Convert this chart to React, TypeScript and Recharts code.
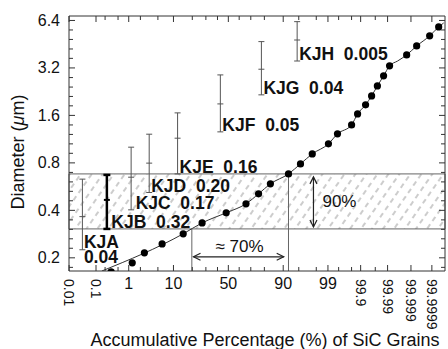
import React from "react";
import {
  ComposedChart, XAxis, YAxis, Scatter, Line, ErrorBar,
  ReferenceArea, ReferenceLine,
} from "recharts";

const FONT = "'Liberation Sans', Arial, Helvetica, sans-serif";
const INK = "#111";
const FRAME = "#333";

// SiC grains: accumulative percentage and diameter (um)
const grainPct = [0.31, 1.24, 2.5, 6.1, 14.6, 27, 48, 66, 76, 83.7, 92, 95.4, 97.5, 99.03, 99.46, 99.8, 99.873, 99.9325, 99.959, 99.975, 99.9856, 99.9917, 99.99844, 99.999454, 99.999871, 99.999955];
const grainDia = [0.163, 0.186, 0.215, 0.245, 0.284, 0.333, 0.386, 0.44, 0.509, 0.589, 0.681, 0.788, 0.912, 1.056, 1.222, 1.393, 1.636, 1.866, 2.127, 2.46, 2.85, 3.3, 3.87, 4.41, 5.11, 5.82];

// drawn curve
const fitPct = [0.157, 14.6, 27, 48, 66, 76, 83.7, 92, 95.4, 97.5, 99.03, 99.46, 99.8, 99.873, 99.9325, 99.959, 99.975, 99.9856, 99.9917, 99.99614, 99.99844, 99.999454, 99.999871, 99.999955, 99.9999753];
const fitDia = [0.165, 0.284, 0.333, 0.386, 0.44, 0.509, 0.589, 0.681, 0.788, 0.912, 1.056, 1.222, 1.393, 1.636, 1.866, 2.127, 2.46, 2.85, 3.3, 3.54, 3.87, 4.41, 5.11, 5.82, 6.17];

// Murchison KJ size separates
const sampleName = ["KJA", "KJB", "KJC", "KJD", "KJE", "KJF", "KJG", "KJH"];
const sampleFrac = ["0.04", "0.32", "0.17", "0.20", "0.16", "0.05", "0.04", "0.005"];
const samplePct = [0.0327, 0.228, 1.16, 3.23, 11.8, 42.6, 78, 94.6];
const sampleLow = [0.225, 0.305, 0.403, 0.519, 0.681, 1.258, 2.16, 3.54];
const sampleMid = [0.365, 0.466, 0.649, 0.797, 1.147, 1.892, 3.14, 4.81];
const sampleHigh = [0.631, 0.671, 1.006, 1.216, 1.66, 2.89, 4.7, 6.29];
const boldSample = "KJB";

// 90% band and 70% span
const bandLow = 0.305;
const bandHigh = 0.681;
const spanPct = [19.7, 92];
const arrowPctH = [20.8, 90.2];
const arrowDiaH = 0.203;
const arrowPctV = 97.66;
const arrowDiaV = [0.652, 0.314];

const xTickPct = [0.01, 0.1, 0.2, 0.5, 1, 2, 5, 10, 20, 30, 40, 50, 60, 70, 80, 90, 95, 98, 99, 99.5, 99.8, 99.9, 99.97, 99.99, 99.999, 99.9999];
const xLabels = ["0.01", "0.1", "1", "10", "50", "90", "99", "99.9", "99.99", "99.999", "99.9999"];
const xRotated = ["0.01", "0.1", "99.9", "99.99", "99.999", "99.9999"];
const yMajor = [0.2, 0.4, 0.8, 1.6, 3.2, 6.4];
const yMinor = [0.174, 0.23, 0.264, 0.303, 0.348, 0.46, 0.528, 0.606, 0.696, 0.92, 1.056, 1.212, 1.392, 1.84, 2.11, 2.42, 2.78, 3.68, 4.22, 4.85, 5.57];

// inverse normal CDF (probability-paper axis)
function probit(p: number) {
  const a = [-39.69683028665376, 220.9460984245205, -275.9285104469687, 138.357751867269, -30.66479806614716, 2.506628277459239];
  const b = [-54.47609879822406, 161.5858368580409, -155.6989798598866, 66.80131188771972, -13.28068155288572];
  const c = [-0.007784894002430293, -0.3223964580411365, -2.400758277161838, -2.549732539343734, 4.374664141464968, 2.938163982698783];
  const d = [0.007784695709041462, 0.3224671290700398, 2.445134137142996, 3.754408661907416];
  const tail = (q: number) =>
    (((((c[0] * q + c[1]) * q + c[2]) * q + c[3]) * q + c[4]) * q + c[5]) /
    ((((d[0] * q + d[1]) * q + d[2]) * q + d[3]) * q + 1);
  if (p < 0.02425) return tail(Math.sqrt(-2 * Math.log(p)));
  if (p > 1 - 0.02425) return -tail(Math.sqrt(-2 * Math.log(1 - p)));
  const q = p - 0.5, r = q * q;
  return ((((((a[0] * r + a[1]) * r + a[2]) * r + a[3]) * r + a[4]) * r + a[5]) * q) /
    (((((b[0] * r + b[1]) * r + b[2]) * r + b[3]) * r + b[4]) * r + 1);
}
const zOf = (pct: number) => probit(pct / 100);

const grains = grainPct.map((p, i) => ({ z: zOf(p), d: grainDia[i] }));
const fit = fitPct.map((p, i) => ({ z: zOf(p), d: fitDia[i] }));
const samples = sampleName.map((name, i) => ({
  name,
  frac: sampleFrac[i],
  z: zOf(samplePct[i]),
  d: sampleMid[i],
  low: sampleLow[i],
  err: [sampleMid[i] - sampleLow[i], sampleHigh[i] - sampleMid[i]],
}));
const labels = samples.map((s) => ({ ...s, d: s.low }));

const xTicks = xTickPct.map(zOf);
const xDomain = [zOf(0.01) - 0.002, 5.06];
const yDomain = [0.165, 6.83];
const yTicks = [...yMajor, ...yMinor].sort((p, q) => p - q);

function xLabel(v: number) {
  const i = xTicks.findIndex((t) => Math.abs(t - v) < 1e-6);
  const s = i >= 0 ? String(xTickPct[i]) : "";
  return xLabels.includes(s) ? s : "";
}
function yLabel(v: number) {
  return yMajor.includes(v) ? String(v) : "";
}

const BottomTick = (p: any) => {
  const { x, y, payload } = p;
  const lab = xLabel(payload.value);
  const len = lab ? 6 : 4;
  return (
    <g>
      <line x1={x} x2={x} y1={y} y2={y - len} stroke={FRAME} />
      {lab && (xRotated.includes(lab) ? (
        <text x={x} y={y + 8} transform={`rotate(90 ${x} ${y + 8})`} textAnchor="start"
          dominantBaseline="central" fontSize={14} fill={INK} fontFamily={FONT}>{lab}</text>
      ) : (
        <text x={x} y={y + 18} textAnchor="middle" fontSize={16} fill={INK} fontFamily={FONT}>{lab}</text>
      ))}
    </g>
  );
};

const TopTick = (p: any) => {
  const { x, y, payload } = p;
  const len = xLabel(payload.value) ? 6 : 4;
  return <line x1={x} x2={x} y1={y} y2={y + len} stroke={FRAME} />;
};

const LeftTick = (p: any) => {
  const { x, y, payload } = p;
  const lab = yLabel(payload.value);
  const len = lab ? 6 : 4;
  return (
    <g>
      <line x1={x} x2={x + len} y1={y} y2={y} stroke={FRAME} />
      {lab && (
        <text x={x - 9} y={y} textAnchor="end" dominantBaseline="central" fontSize={16}
          fill={INK} fontFamily={FONT}>{lab}</text>
      )}
    </g>
  );
};

const RightTick = (p: any) => {
  const { x, y, payload } = p;
  const len = yLabel(payload.value) ? 6 : 4;
  return <line x1={x} x2={x - len} y1={y} y2={y} stroke={FRAME} />;
};

const Dot = (p: any) => <circle cx={p.cx} cy={p.cy} r={3.6} fill="#000" />;

const MidTick = (p: any) => (
  <line x1={p.cx - 3} x2={p.cx + 3} y1={p.cy} y2={p.cy} stroke={p.payload.name === boldSample ? "#000" : "#555"}
    strokeWidth={p.payload.name === boldSample ? 2 : 1} />
);

const SampleLabel = (p: any) => {
  const { cx, cy, payload } = p;
  const style = { fontSize: 17.5, fontWeight: 700, fill: INK, fontFamily: FONT, whiteSpace: "pre" as const };
  if (payload.name === "KJA") {
    return (
      <text x={cx + 1.5} y={cy - 2} style={style}>
        {payload.name}
        <tspan x={cx + 1.5} dy={15.5}>{payload.frac}</tspan>
      </text>
    );
  }
  const dx = cx < 140 ? 4.5 : 2;
  return <text x={cx + dx} y={cy - 1} style={style}>{`${payload.name}  ${payload.frac}`}</text>;
};

const HArrow = (p: any) => {
  const { x1, y1, x2, y2 } = p;
  const h = 7, w = 3.5;
  return (
    <g>
      <g stroke="#222" strokeWidth={1.2} fill="none">
        <line x1={x1} y1={y1} x2={x2} y2={y2} />
        <polyline points={`${x1 + h},${y1 - w} ${x1},${y1} ${x1 + h},${y1 + w}`} />
        <polyline points={`${x2 - h},${y2 - w} ${x2},${y2} ${x2 - h},${y2 + w}`} />
      </g>
      <text x={(x1 + x2) / 2 + 1} y={y1 - 5} textAnchor="middle" fontSize={17} fill={INK} fontFamily={FONT}>≈ 70%</text>
    </g>
  );
};

const VArrow = (p: any) => {
  const { x1, y1, x2, y2 } = p;
  const h = 7, w = 3.5;
  return (
    <g>
      <g stroke="#222" strokeWidth={1.2} fill="none">
        <line x1={x1} y1={y1} x2={x2} y2={y2} />
        <polyline points={`${x1 - w},${y1 + h} ${x1},${y1} ${x1 + w},${y1 + h}`} />
        <polyline points={`${x2 - w},${y2 - h} ${x2},${y2} ${x2 + w},${y2 - h}`} />
      </g>
      <text x={x1 + 9} y={(y1 + y2) / 2} dominantBaseline="central" fontSize={17} fill={INK} fontFamily={FONT}>90%</text>
    </g>
  );
};

export default function App() {
  return (
    <div style={{ position: "absolute", left: 0, top: 0, width: 448, height: 349, background: "#fff" }}>
      <ComposedChart width={448} height={349} margin={{ top: 15, right: 2, bottom: 0, left: 0 }}>
        <defs>
          <pattern id="hatch" patternUnits="userSpaceOnUse" width="9" height="9" patternTransform="rotate(35)">
            <line x1="4" y1="0" x2="4" y2="9" stroke="#9a9a9a" strokeWidth="1" strokeDasharray="5 4" />
          </pattern>
        </defs>
        <XAxis dataKey="z" type="number" domain={xDomain} allowDataOverflow ticks={xTicks} interval={0}
          height={78} tickSize={0} tickMargin={0} tick={<BottomTick />} axisLine={{ stroke: FRAME }} />
        <XAxis xAxisId="t" orientation="top" dataKey="z" type="number" domain={xDomain} allowDataOverflow
          ticks={xTicks} interval={0} height={1} tickSize={0} tickMargin={0} tick={<TopTick />} axisLine={{ stroke: FRAME }} />
        <YAxis dataKey="d" type="number" scale="log" domain={yDomain} allowDataOverflow ticks={yTicks}
          interval={0} width={69} tickSize={0} tickMargin={0} tick={<LeftTick />} axisLine={{ stroke: FRAME }} />
        <YAxis yAxisId="r" orientation="right" dataKey="d" type="number" scale="log" domain={yDomain}
          allowDataOverflow ticks={yTicks} interval={0} width={1} tickSize={0} tickMargin={0}
          tick={<RightTick />} axisLine={{ stroke: FRAME }} />

        <ReferenceArea y1={bandLow} y2={bandHigh} fill="url(#hatch)" fillOpacity={1} stroke="#666" strokeWidth={1} />
        <ReferenceLine segment={[{ x: zOf(spanPct[0]), y: yDomain[0] }, { x: zOf(spanPct[0]), y: bandLow }]}
          stroke="#666" strokeWidth={1} />
        <ReferenceLine segment={[{ x: zOf(spanPct[1]), y: yDomain[0] }, { x: zOf(spanPct[1]), y: bandHigh }]}
          stroke="#666" strokeWidth={1} />
        <ReferenceLine segment={[{ x: zOf(arrowPctH[0]), y: arrowDiaH }, { x: zOf(arrowPctH[1]), y: arrowDiaH }]}
          shape={HArrow} />
        <ReferenceLine segment={[{ x: zOf(arrowPctV), y: arrowDiaV[0] }, { x: zOf(arrowPctV), y: arrowDiaV[1] }]}
          shape={VArrow} />

        <Line data={fit} dataKey="d" type="monotone" dot={false} stroke="#333" strokeWidth={1}
          isAnimationActive={false} />
        <Scatter data={grains} dataKey="d" shape={Dot} isAnimationActive={false} />

        <Scatter data={samples.filter((s) => s.name !== boldSample)} dataKey="d" shape={MidTick} isAnimationActive={false}>
          <ErrorBar dataKey="err" direction="y" width={3} stroke="#555" strokeWidth={1} isAnimationActive={false} />
        </Scatter>
        <Scatter data={samples.filter((s) => s.name === boldSample)} dataKey="d" shape={MidTick} isAnimationActive={false}>
          <ErrorBar dataKey="err" direction="y" width={3.5} stroke="#000" strokeWidth={2.5} isAnimationActive={false} />
        </Scatter>
        <Scatter data={labels} dataKey="d" shape={SampleLabel} isAnimationActive={false} />

        <text x={265} y={346} textAnchor="middle" fontSize={18} fill={INK} fontFamily={FONT}>
          Accumulative Percentage (%) of SiC Grains
        </text>
        <text x={24} y={152} textAnchor="middle" fontSize={18} fill={INK} fontFamily={FONT}
          transform="rotate(-90 24 152)">
          Diameter (<tspan fontStyle="italic">μ</tspan>m)
        </text>
      </ComposedChart>
    </div>
  );
}
